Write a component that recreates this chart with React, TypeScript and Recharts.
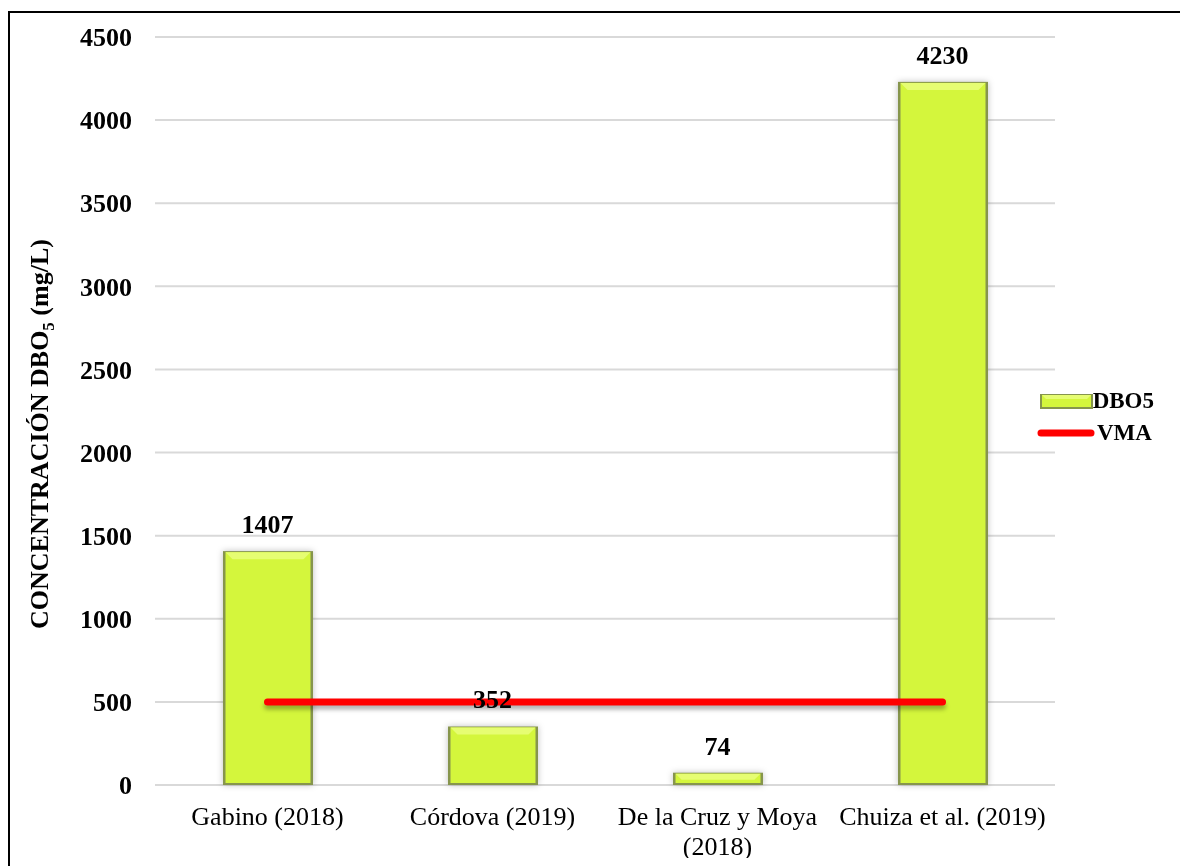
import React from 'react';
import { ComposedChart, Bar, Line, XAxis, YAxis, CartesianGrid, Legend, LabelList } from 'recharts';

// DBO5 concentration per study, with the VMA limit
const categories = ['Gabino (2018)', 'Córdova (2019)', 'De la Cruz y Moya (2018)', 'Chuiza et al. (2019)'];
const dbo5Values = [1407, 352, 74, 4230];
const vmaValues = [500, 500, 500, 500];
const yTicks = [0, 500, 1000, 1500, 2000, 2500, 3000, 3500, 4000, 4500];

const data = categories.map((name, i) => ({
  name,
  DBO5: dbo5Values[i],
  VMA: vmaValues[i],
  label: dbo5Values[i],
}));

const SERIF = "'Times New Roman', 'Liberation Serif', serif";
const BAR_FILL = '#d4f63c';
const BAR_EDGE = '#86954c';
const BAR_LIGHT = '#e6fd72';

// bevelled green column
const BevelBar = (props: any) => {
  const { x, y, width, height } = props;
  if (!height || height <= 0) return null;
  const bevel = Math.min(7, height / 2);
  return (
    <g className="bevel-bar">
      <rect x={x} y={y} width={width} height={height} fill={BAR_EDGE} />
      <rect x={x + 2.5} y={y + 1} width={width - 5} height={height - 3} fill={BAR_FILL} />
      <polygon
        points={`${x + 2.5},${y + 1} ${x + width - 2.5},${y + 1} ${x + width - 2.5 - bevel},${y + 1 + bevel} ${x + 2.5 + bevel},${y + 1 + bevel}`}
        fill={BAR_LIGHT}
      />
    </g>
  );
};

// greedy word wrap measured on a canvas
let measureCtx: CanvasRenderingContext2D | null = null;
const wrapWords = (text: string, maxWidth: number, font: string) => {
  if (!measureCtx) measureCtx = document.createElement('canvas').getContext('2d');
  const ctx = measureCtx!;
  ctx.font = font;
  const lines: string[] = [];
  let current = '';
  text.split(' ').forEach((word) => {
    const next = current ? `${current} ${word}` : word;
    if (current && ctx.measureText(next).width > maxWidth) {
      lines.push(current);
      current = word;
    } else {
      current = next;
    }
  });
  if (current) lines.push(current);
  return lines;
};

const XTick = (props: any) => {
  const { x, y, payload } = props;
  const lines = wrapWords(String(payload.value), 222, "26px 'Times New Roman', 'Liberation Serif', serif");
  return (
    <text x={x} y={y} textAnchor="middle" fontSize={26} fontFamily={SERIF} fill="#000">
      {lines.map((line, i) => (
        <tspan key={i} x={x} dy={i === 0 ? 18.5 : 30}>
          {line}
        </tspan>
      ))}
    </text>
  );
};

const YLabel = (props: any) => {
  const { viewBox } = props;
  const cx = viewBox.x + 40;
  const cy = viewBox.y + viewBox.height / 2 + 23;
  return (
    <text
      x={cx}
      y={cy}
      transform={`rotate(-90, ${cx}, ${cy})`}
      textAnchor="middle"
      fontSize={26}
      fontWeight="bold"
      fontFamily={SERIF}
      fill="#000"
    >
      CONCENTRACIÓN DBO
      <tspan fontSize={17} dy={6}>5</tspan>
      <tspan dy={-6}> (mg/L)</tspan>
    </text>
  );
};

const LegendContent = (props: any) => {
  const { payload } = props;
  const items = (payload || []).filter((entry: any) => entry.type !== 'none');
  return (
    <div style={{ fontFamily: SERIF, fontWeight: 'bold', fontSize: 23, color: '#000' }}>
      {items.map((entry: any) => (
        <div key={entry.value} style={{ display: 'flex', alignItems: 'center', height: 32 }}>
          <svg width={60} height={20}>
            {entry.type === 'line' ? (
              <line x1={4} y1={10} x2={54} y2={10} stroke="#ff0000" strokeWidth={7} strokeLinecap="round" />
            ) : (
              <g>
                <rect x={3} y={3} width={53} height={15} fill={BAR_EDGE} />
                <rect x={5} y={4} width={49} height={12} fill={BAR_FILL} />
                <polygon points="5,4 54,4 50,8 9,8" fill={BAR_LIGHT} />
              </g>
            )}
          </svg>
          <span>{entry.value}</span>
        </div>
      ))}
    </div>
  );
};

export default function App() {
  return (
    <div
      style={{
        position: 'relative',
        width: 1164,
        height: 858,
        marginBottom: -8,
        overflow: 'hidden',
        background: '#fff',
      }}
    >
      <style>{`
        .vma-line path { filter: drop-shadow(0px 4px 2px rgba(0,0,0,0.3)); }
        .bevel-bar { filter: drop-shadow(0px 0px 3px rgba(0,0,0,0.25)); }
      `}</style>
      <div
        style={{
          position: 'fixed',
          left: 8,
          top: 11,
          right: -20,
          bottom: -20,
          borderTop: '2px solid #000',
          borderLeft: '2px solid #000',
          pointerEvents: 'none',
        }}
      />
      <ComposedChart
        width={1164}
        height={858}
        data={data}
        margin={{ top: 29, right: 0, left: 0, bottom: 0 }}
      >
        <CartesianGrid vertical={false} stroke="#d9d9d9" strokeWidth={2} />
        <XAxis
          dataKey="name"
          interval={0}
          axisLine={false}
          tickLine={false}
          tickSize={0}
          tickMargin={21}
          height={81}
          tick={<XTick />}
        />
        <YAxis
          width={147}
          domain={[0, 4500]}
          ticks={yTicks}
          axisLine={false}
          tickLine={false}
          tickSize={0}
          tickMargin={23}
          tick={{ fontSize: 26, fontWeight: 'bold', fill: '#000', fontFamily: SERIF }}
          label={{ content: <YLabel /> }}
        />
        <Legend
          layout="vertical"
          align="right"
          verticalAlign="middle"
          content={<LegendContent />}
          wrapperStyle={{ width: 117, left: 1029, top: 377 }}
        />
        <Bar dataKey="DBO5" barSize={90} shape={<BevelBar />} isAnimationActive={false} />
        <Line
          className="vma-line"
          type="linear"
          dataKey="VMA"
          stroke="#ff0000"
          strokeWidth={7}
          strokeLinecap="round"
          dot={false}
          activeDot={false}
          isAnimationActive={false}
        />
        {/* value labels drawn last so they sit above the VMA line */}
        <Line
          dataKey="label"
          stroke="none"
          dot={false}
          activeDot={false}
          legendType="none"
          isAnimationActive={false}
        >
          <LabelList
            dataKey="label"
            position="top"
            offset={18}
            fontSize={26}
            fontWeight="bold"
            fontFamily={SERIF}
            fill="#000"
          />
        </Line>
      </ComposedChart>
    </div>
  );
}
